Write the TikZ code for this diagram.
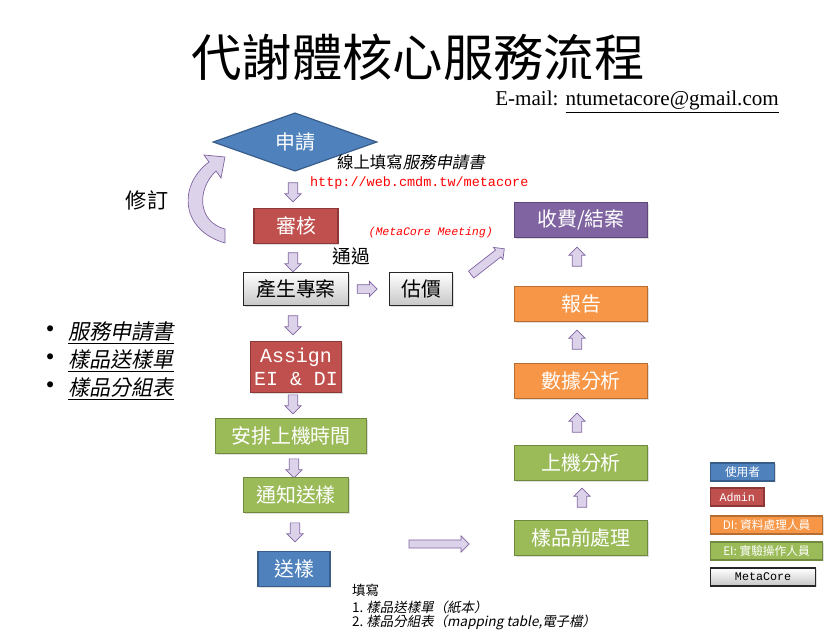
\documentclass[tikz,border=0pt]{standalone}
\usepackage{fontspec}
\setmainfont{Noto Sans CJK TC}[AutoFakeSlant=0.2]
\newfontfamily\latinserif{Liberation Serif}
\newfontfamily\latinmono{Liberation Mono}[AutoFakeSlant=0.2]
\usetikzlibrary{shapes.geometric, shapes.arrows, shadows, positioning}

\definecolor{userblue}{HTML}{4F81BD}
\definecolor{userblueline}{HTML}{385D8A}
\definecolor{adminred}{HTML}{C0504D}
\definecolor{adminredline}{HTML}{8C3836}
\definecolor{eigreen}{HTML}{9BBB59}
\definecolor{eigreenline}{HTML}{71893F}
\definecolor{diorange}{HTML}{F79646}
\definecolor{diorangeline}{HTML}{B66D31}
\definecolor{closepurple}{HTML}{8064A2}
\definecolor{closepurpleline}{HTML}{5C4776}
\definecolor{arrowfill}{HTML}{DCD3EA}
\definecolor{arrowline}{HTML}{8064A2}
\definecolor{linkred}{HTML}{FF0000}

\tikzset{
  stepbase/.style={rectangle, line width=1.2pt, text=white, inner sep=2pt,
    font=\fontsize{17}{20}\selectfont, minimum height=1.05cm,
    drop shadow={opacity=0.25, shadow xshift=1pt, shadow yshift=-1pt}},
  userbox/.style={stepbase, fill=userblue, draw=userblueline},
  adminbox/.style={stepbase, fill=adminred, draw=adminredline},
  eibox/.style={stepbase, fill=eigreen, draw=eigreenline},
  dibox/.style={stepbase, fill=diorange, draw=diorangeline},
  closebox/.style={stepbase, fill=closepurple, draw=closepurpleline},
  corebox/.style={stepbase, top color=white, bottom color=black!22, draw=black!85,
    line width=0.9pt, text=black},
  legendbox/.style={anchor=west, minimum height=0.54cm, inner sep=1pt,
    font=\fontsize{10}{11}\selectfont, line width=1pt},
  blockarrow/.style={single arrow, draw=arrowline, fill=arrowfill, inner sep=0.13cm,
    line width=0.6pt, minimum height=0.57cm, single arrow head extend=0.1cm},
  downarrow/.style={blockarrow, shape border rotate=270},
  uparrow/.style={blockarrow, shape border rotate=90},
  formline/.style={anchor=west, font=\fontsize{18}{20}\selectfont},
  noteline/.style={anchor=west, font=\fontsize{11.5}{13}\selectfont},
}
\newcommand{\formbullet}{{\fontsize{24}{24}\selectfont\textbullet}\hspace{0.12cm}}

\begin{document}
\begin{tikzpicture}[x=0.03cm, y=-0.03cm]
  \useasboundingbox (0,0) rectangle (824,639);
  % title and contact
  \node (title) at (418,57) {\fontsize{43}{46}\selectfont 代謝體核心服務流程};
  \node (email) at (637,102) {\latinserif\fontsize{18}{20}\selectfont E-mail: \underline{ntumetacore@gmail.com}};

  % left column: request to shipping
  \node (apply) [diamond, fill=userblue, draw=userblueline, line width=1pt, text=white,
    minimum width=4.92cm, minimum height=1.68cm, inner sep=0pt,
    font=\fontsize{17}{20}\selectfont] at (295,142) {申請};
  \node (formnote) [anchor=west, font=\fontsize{14}{16}\selectfont] at (333,162) {線上填寫\textit{服務申請書}};
  \node (url) [anchor=west, text=linkred, font=\latinmono\fontsize{11.5}{13}\selectfont] at (306,183) {http://web.cmdm.tw/metacore};
  \node (arrApply) [downarrow] at (293,190) {};
  \node (review) [adminbox, minimum width=2.52cm] at (296,226) {審核};
  \node (meeting) [anchor=west, text=linkred, font=\latinmono\itshape\fontsize{9.8}{12}\selectfont] at (364,233) {(MetaCore Meeting)};
  \node (pass) [font=\fontsize{16}{18}\selectfont] at (351,256) {通過};
  \node (arrReview) [downarrow] at (293,260) {};
  \node (project) [corebox, minimum width=3.15cm, minimum height=0.99cm] at (296,289) {產生專案};
  \node (arrProject) [blockarrow, minimum height=0.6cm, inner sep=0.12cm] at (365,289) {};
  \node (quote) [corebox, minimum width=1.9cm, minimum height=0.99cm] at (421,289) {估價};
  \node (arrQuote) [blockarrow, rotate=38, minimum height=1.26cm, inner sep=0.12cm] at (486,263) {};
  \node (arrProjectDown) [downarrow] at (293,323) {};
  \node (assign) [adminbox, minimum width=2.73cm, minimum height=1.53cm, align=center,
    font=\latinmono\fontsize{17}{20}\selectfont] at (296,367) {Assign\\EI \& DI};
  \node (arrAssign) [downarrow] at (293,402) {};
  \node (schedule) [eibox, minimum width=4.53cm] at (291,436) {安排上機時間};
  \node (arrSchedule) [downarrow] at (294,466) {};
  \node (notify) [eibox, minimum width=3.15cm] at (296,495) {通知送樣};
  \node (arrNotify) [downarrow] at (295,530) {};
  \node (ship) [userbox, minimum width=2.16cm] at (294,569) {送樣};
  \node (arrShip) [blockarrow, minimum height=1.8cm, inner sep=0.11cm, single arrow head extend=0.12cm] at (437,544) {};

  % revise loop
  \filldraw[fill=arrowfill, draw=arrowline, line width=0.6pt]
    (225,243) .. controls (180,230) and (178,185) .. (209,162) -- (204,155) -- (225,157)
    -- (221,178) -- (216,171) .. controls (196,190) and (198,222) .. (225,229) -- cycle;
  \node (revise) [font=\fontsize{18}{20}\selectfont] at (147,200) {修訂};

  % forms
  \node (form1) [formline] at (32,333) {\formbullet\underline{\textit{服務申請書}}};
  \node (form2) [formline] at (32,361) {\formbullet\underline{\textit{樣品送樣單}}};
  \node (form3) [formline] at (32,389) {\formbullet\underline{\textit{樣品分組表}}};

  % fill-in note
  \node (fillnote) [noteline] at (348,590) {填寫};
  \node (fill1) [noteline] at (348,607) {1.\ \textit{樣品送樣單（紙本）}};
  \node (fill2) [noteline] at (348,622) {2.\ \textit{樣品分組表（mapping table,電子檔）}};

  % right column: prep to close
  \node (close) [closebox, minimum width=4cm] at (581,220) {收費/結案};
  \node (arrReport) [uparrow] at (577,259) {};
  \node (report) [dibox, minimum width=4cm] at (581,304) {報告};
  \node (arrAnalysis) [uparrow] at (577,342) {};
  \node (analysis) [dibox, minimum width=4cm] at (581,381) {數據分析};
  \node (arrRun) [uparrow] at (577,425) {};
  \node (run) [eibox, minimum width=4cm] at (581,463) {上機分析};
  \node (arrPrep) [uparrow] at (582,500) {};
  \node (prep) [eibox, minimum width=4cm] at (581,538) {樣品前處理};

  % legend
  \node (lgUser) [userbox, legendbox, minimum width=1.92cm] at (710,472) {使用者};
  \node (lgAdmin) [adminbox, legendbox, minimum width=1.6cm, font=\latinmono\fontsize{10}{11}\selectfont] at (710,497) {Admin};
  \node (lgDI) [dibox, legendbox, minimum width=3.36cm] at (710,525) {DI: 資料處理人員};
  \node (lgEI) [eibox, legendbox, minimum width=3.36cm] at (710,551) {EI: 實驗操作人員};
  \node (lgCore) [corebox, legendbox, minimum width=3.15cm, font=\latinmono\fontsize{10}{11}\selectfont] at (710,577) {MetaCore};
\end{tikzpicture}
\end{document}
